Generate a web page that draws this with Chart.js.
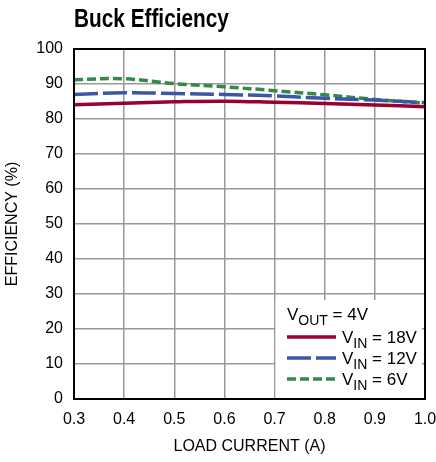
<!DOCTYPE html>
<html>
<head>
<meta charset="utf-8">
<script src="https://cdn.jsdelivr.net/npm/chart.js@4.4.1/dist/chart.umd.min.js"></script>
<style>
  body { margin: 0; background: #fff; }
  canvas { display: block; }
</style>
</head>
<body>
<canvas id="buckChart" width="436" height="462"></canvas>
<script>
// values
const loadCurrent = [0.3, 0.4, 0.5, 0.6, 0.7, 0.8, 0.9, 1.0];
const eff18V = [84.1, 84.5, 84.9, 85.1, 84.8, 84.4, 84.0, 83.5];
const eff12V = [87.0, 87.5, 87.3, 87.0, 86.6, 85.9, 85.4, 84.7];
const eff6V  = [91.2, 91.5, 90.1, 89.2, 88.1, 86.9, 85.6, 84.5];
const vinLabels = ['18V', '12V', '6V'];
const voutLabel = '4V';
const chartTitle = 'Buck Efficiency';
const xTitle = 'LOAD CURRENT (A)';
const yTitle = 'EFFICIENCY (%)';

const FONT = "'Liberation Sans', Arial, sans-serif";
const colors = ['#990033', '#3a56a5', '#338a48'];
const dashes = [[], [24, 5], [9, 4]];

function toPoints(ys) {
    return ys.map((y, i) => ({ x: loadCurrent[i], y: y }));
}

// title drawn above the plot, squeezed a bit to look like a condensed face
const titlePlugin = {
    id: 'titleText',
    afterDraw(chart) {
        const c = chart.ctx;
        c.save();
        c.fillStyle = '#000';
        c.font = "bold 26px " + FONT;
        c.textBaseline = 'alphabetic';
        c.translate(chart.chartArea.left, 27);
        c.scale(0.8, 1);
        c.fillText(chartTitle, 0, 0);
        c.restore();
    }
};

// white legend box inside the plot, with subscripts
const legendPlugin = {
    id: 'boxLegend',
    beforeDatasetsDraw(chart) {
        const c = chart.ctx;
        const area = chart.chartArea;
        const x0 = chart.scales.x.getPixelForValue(0.7) + 1;
        c.save();
        c.fillStyle = '#fff';
        c.fillRect(x0, area.top + 251, area.right - 3 - x0, area.bottom - area.top - 252);

        function sub(x, y, main, low, rest) {
            c.font = "17px " + FONT;
            c.fillText(main, x, y);
            x += c.measureText(main).width;
            c.font = "14px " + FONT;
            c.fillText(low, x, y + 5);
            x += c.measureText(low).width;
            c.font = "17px " + FONT;
            c.fillText(rest, x, y);
        }

        c.fillStyle = '#000';
        c.textBaseline = 'alphabetic';
        const lx = area.right - 138;
        sub(lx, area.top + 271, 'V', 'OUT', ' = ' + voutLabel);

        chart.data.datasets.forEach((ds, i) => {
            const ly = area.top + 288 + i * 21;
            c.strokeStyle = ds.borderColor;
            c.lineWidth = 3.5;
            c.setLineDash(ds.borderDash || []);
            c.beginPath();
            c.moveTo(lx, ly);
            c.lineTo(lx + 49, ly);
            c.stroke();
            c.setLineDash([]);
            c.fillStyle = '#000';
            sub(lx + 55, ly + 6, 'V', 'IN', ' = ' + vinLabels[i]);
        });
        c.restore();
    },
    afterDatasetsDraw(chart) {
        const c = chart.ctx;
        const a = chart.chartArea;
        c.save();
        c.strokeStyle = '#000';
        c.lineWidth = 2;
        c.strokeRect(a.left, a.top, a.right - a.left, a.bottom - a.top);
        c.restore();
    }
};

new Chart(document.getElementById('buckChart'), {
    type: 'line',
    data: {
        datasets: [eff18V, eff12V, eff6V].map((ys, i) => ({
            label: 'VIN = ' + vinLabels[i],
            data: toPoints(ys),
            borderColor: colors[i],
            borderDash: dashes[i],
            borderWidth: 3.5,
            pointRadius: 0,
            tension: 0.4,
            fill: false
        }))
    },
    options: {
        responsive: false,
        animation: false,
        devicePixelRatio: 1,
        layout: { padding: { top: 49, right: 11, left: 0, bottom: 0 } },
        plugins: {
            legend: { display: false },
            tooltip: { enabled: false }
        },
        scales: {
            x: {
                type: 'linear',
                min: 0.3,
                max: 1.0,
                afterFit(s) { s.height = 63; s.paddingLeft = 0; s.paddingRight = 0; },
                grid: { color: '#999', lineWidth: 1.5, drawTicks: false },
                border: { display: false },
                ticks: {
                    stepSize: 0.1,
                    padding: 11,
                    color: '#000',
                    font: { family: FONT, size: 16 },
                    callback: v => v.toFixed(1)
                },
                title: {
                    display: true,
                    text: xTitle,
                    color: '#000',
                    font: { family: FONT, size: 16 },
                    padding: { top: 0, bottom: 6 }
                }
            },
            y: {
                min: 0,
                max: 100,
                afterFit(s) { s.width = 74; s.paddingTop = 0; s.paddingBottom = 0; },
                grid: { color: '#999', lineWidth: 1.5, drawTicks: false },
                border: { display: false },
                ticks: {
                    stepSize: 10,
                    padding: 11,
                    color: '#000',
                    font: { family: FONT, size: 16 }
                },
                title: {
                    display: true,
                    text: yTitle,
                    color: '#000',
                    font: { family: FONT, size: 16 },
                    padding: { top: 3, bottom: 0 }
                }
            }
        }
    },
    plugins: [titlePlugin, legendPlugin]
});
</script>
</body>
</html>
